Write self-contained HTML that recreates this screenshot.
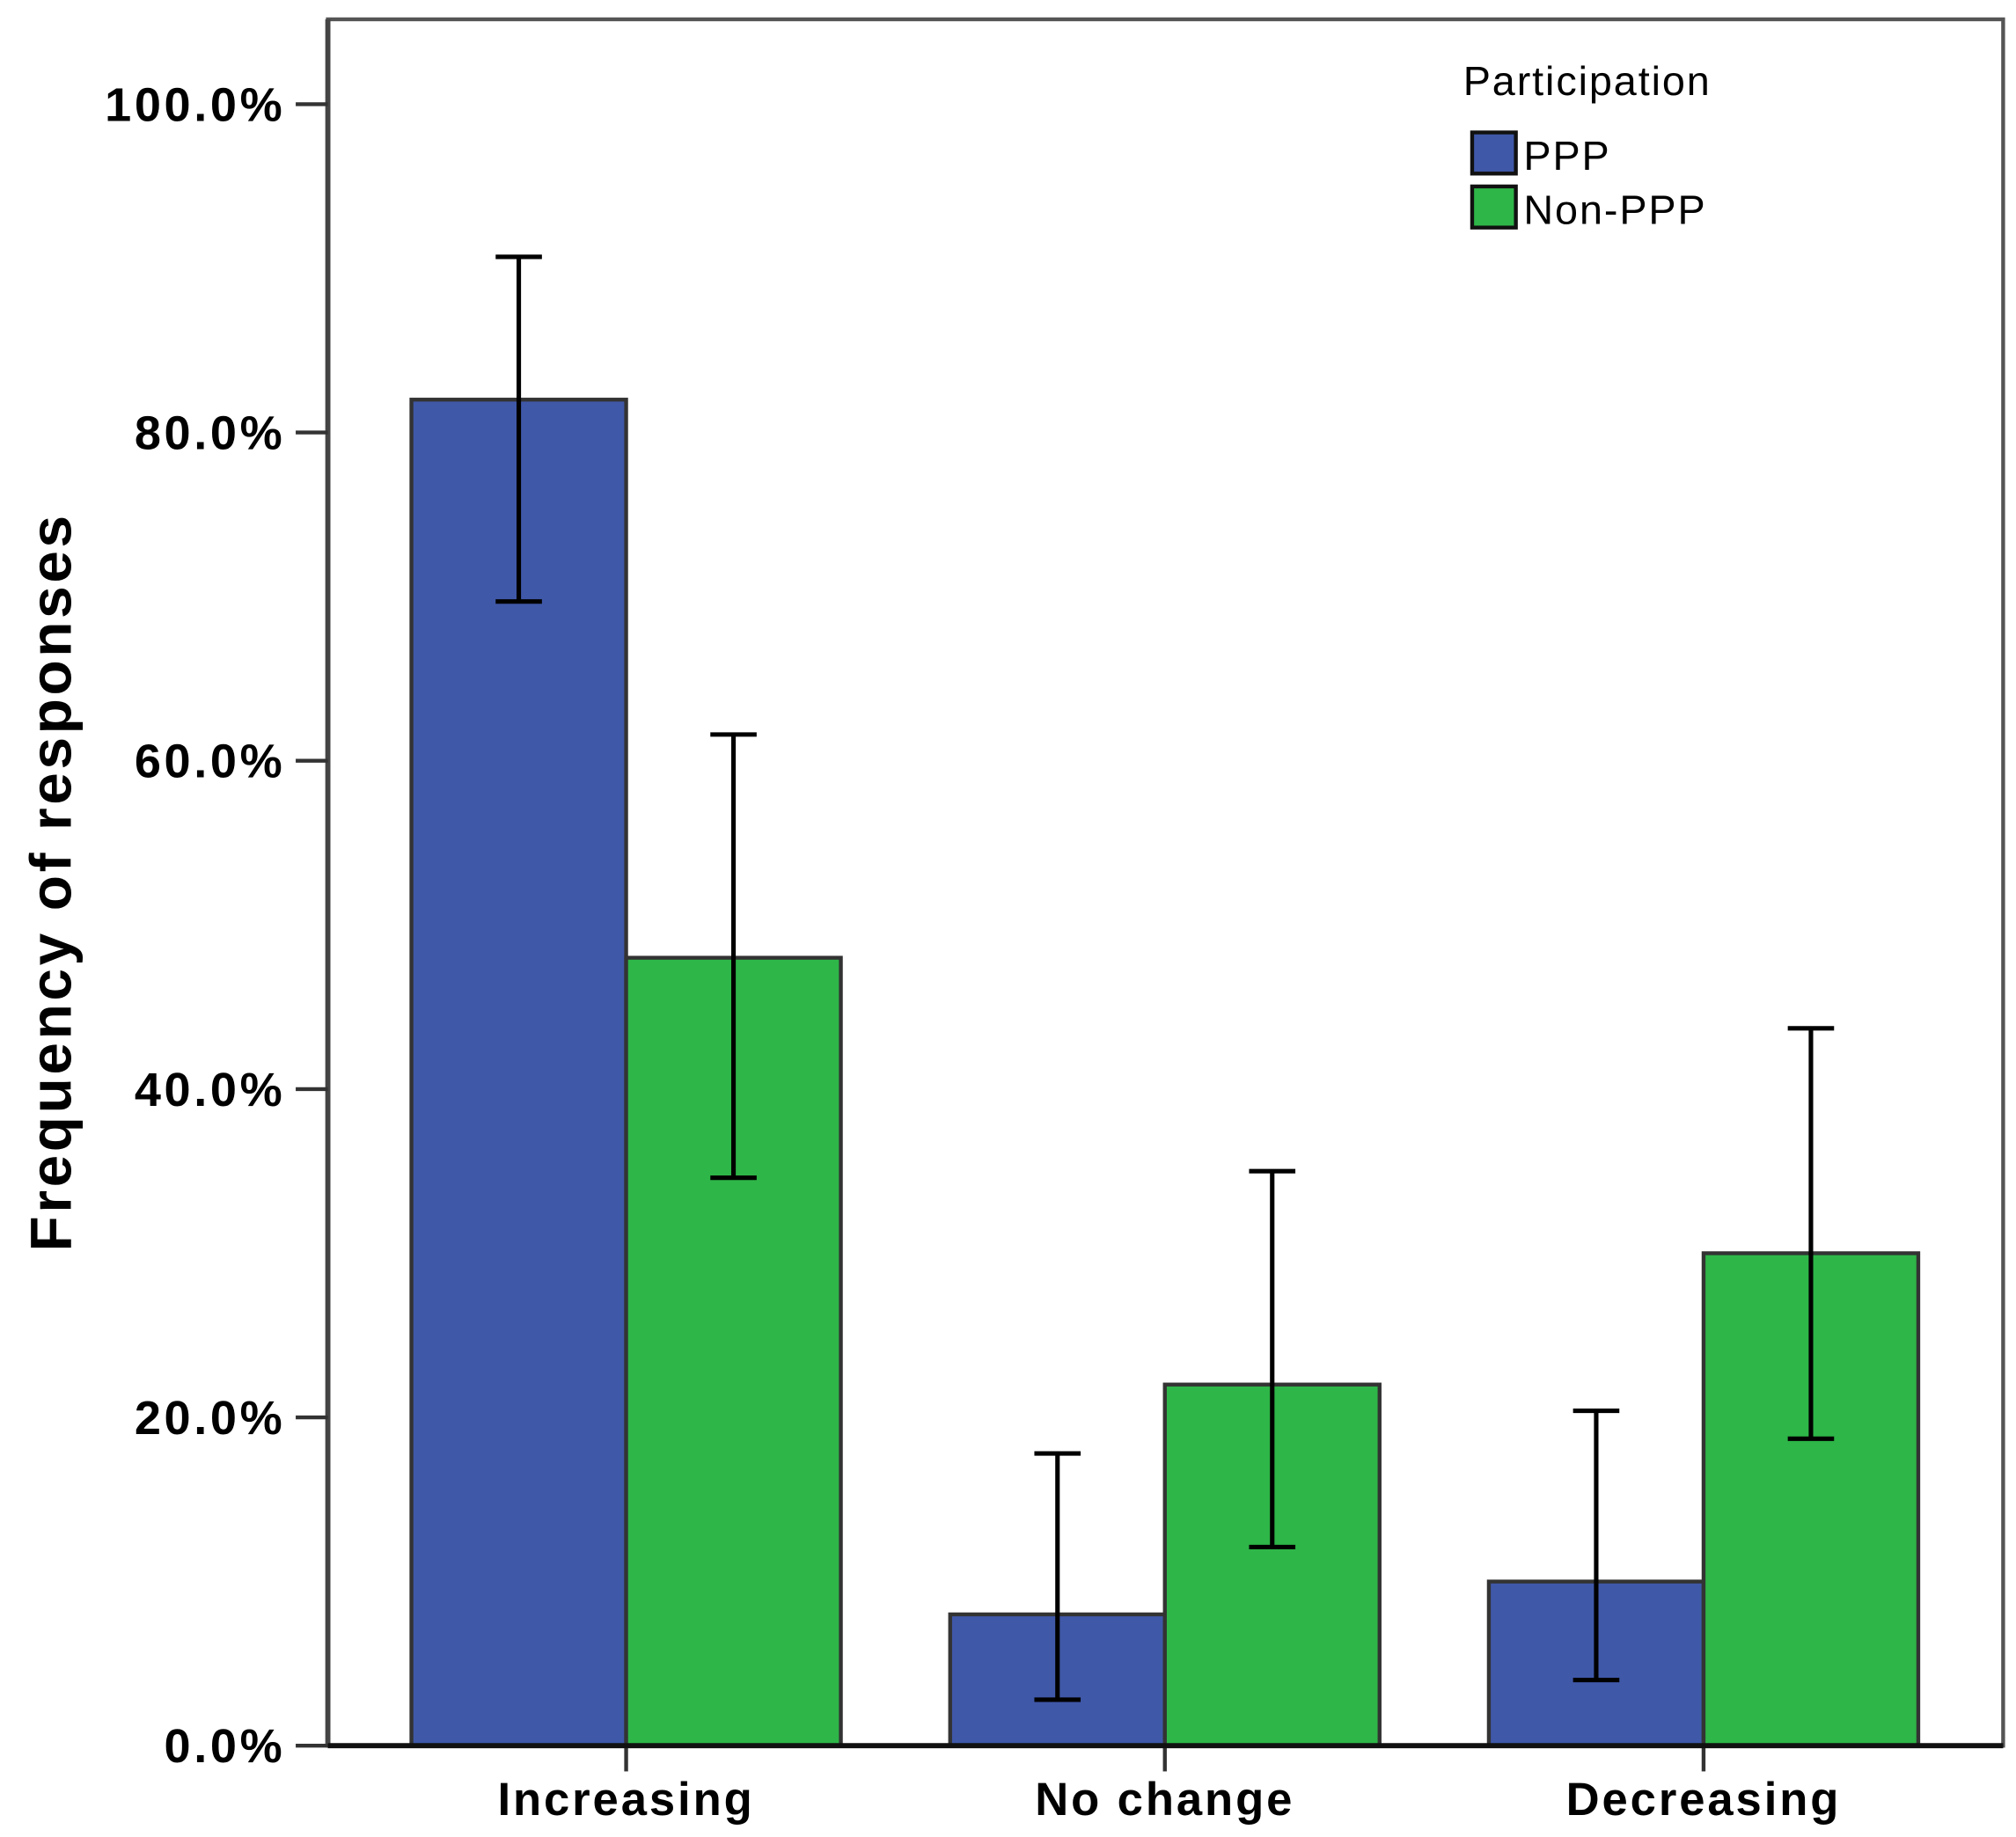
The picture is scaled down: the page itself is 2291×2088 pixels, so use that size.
<!DOCTYPE html>
<html><head><meta charset="utf-8"><style>
html,body{margin:0;padding:0;background:#fff}
svg{display:block}
text{font-family:"Liberation Sans",Arial,sans-serif}
</style></head><body>
<svg id="chart" width="2291" height="2088" viewBox="0 0 1568 1429" xmlns="http://www.w3.org/2000/svg">
<g id="bars"></g>
<g id="axes"></g>
<g>
<text x="1138" y="74" font-size="32" letter-spacing="1.3" fill="#000">Participation</text>
<rect x="1145" y="103" width="34" height="32" fill="#3f58a8" stroke="#111" stroke-width="3"/>
<text x="1185" y="132" font-size="32" letter-spacing="1.3" fill="#000">PPP</text>
<rect x="1145" y="145" width="34" height="32" fill="#2eb648" stroke="#111" stroke-width="3"/>
<text x="1185" y="174" font-size="32" letter-spacing="1.3" fill="#000">Non-PPP</text>
</g>
<text transform="translate(55,686) rotate(-90)" text-anchor="middle" font-size="45" letter-spacing="2.5" font-weight="bold" fill="#000">Frequency of responses</text>
</svg>
<script>
const categories = ["Increasing", "No change", "Decreasing"];
const pppValues = [82, 8, 10];
const nonPppValues = [48, 22, 30];
const pppLow = [69.7, 2.8, 4];
const pppHigh = [90.7, 17.8, 20.4];
const nonPppLow = [34.6, 12.1, 18.7];
const nonPppHigh = [61.6, 35, 43.7];
const yTicks = [0, 20, 40, 60, 80, 100];
const yTickLabels = ["0.0%", "20.0%", "40.0%", "60.0%", "80.0%", "100.0%"];

const NS = "http://www.w3.org/2000/svg";
const plotL = 255, plotR = 1558, plotT = 15, plotB = 1358;
const y = v => plotB - v * (plotB - 81) / 100;
const groupSpacing = 419;
const cx = i => 487 + i * groupSpacing;
const barW = 167;
function mk(tag, attrs, parent) {
  const e = document.createElementNS(NS, tag);
  for (const k in attrs) e.setAttribute(k, attrs[k]);
  parent.appendChild(e);
  return e;
}
const bars = document.getElementById("bars");
const axes = document.getElementById("axes");

categories.forEach((c, i) => {
  const series = [[pppValues, pppLow, pppHigh, "#3f58a8", "ppp"], [nonPppValues, nonPppLow, nonPppHigh, "#2eb648", "non-ppp"]];
  series.forEach((s, j) => {
    const x0 = cx(i) - barW + j * barW;
    const r = mk("rect", {x: x0, y: y(s[0][i]), width: barW, height: plotB - y(s[0][i]), fill: s[3], stroke: "#333", "stroke-width": 3}, bars);
    
    
    const m = x0 + barW / 2;
    const eb = mk("g", {stroke: "#000", "stroke-width": 3.5}, bars);
    
    
    mk("line", {x1: m, x2: m, y1: y(s[1][i]), y2: y(s[2][i])}, eb);
    mk("line", {x1: m - 18, x2: m + 18, y1: y(s[1][i]), y2: y(s[1][i])}, eb);
    mk("line", {x1: m - 18, x2: m + 18, y1: y(s[2][i]), y2: y(s[2][i])}, eb);
  });
  const t = mk("text", {x: cx(i), y: 1412, "text-anchor": "middle", "font-size": 36, "letter-spacing": 2, "font-weight": "bold", fill: "#000"}, axes);
  t.textContent = c;
  
  
  mk("line", {x1: cx(i), x2: cx(i), y1: plotB, y2: plotB + 20, stroke: "#333", "stroke-width": 3}, axes);
});

const frame = mk("rect", {x: plotL, y: plotT, width: plotR - plotL, height: plotB - plotT, fill: "none", stroke: "#555", "stroke-width": 3}, axes);


mk("line", {x1: plotL, x2: plotL, y1: plotT, y2: plotB, stroke: "#444", "stroke-width": 4}, axes);
mk("line", {x1: plotL, x2: plotR, y1: plotB, y2: plotB, stroke: "#111", "stroke-width": 4}, axes);
yTicks.forEach((v, k) => {
  mk("line", {x1: 230, x2: plotL, y1: y(v), y2: y(v), stroke: "#333", "stroke-width": 3}, axes);
  const t = mk("text", {x: 222, y: y(v) + 13, "text-anchor": "end", "font-size": 37, "letter-spacing": 2.5, "font-weight": "bold", fill: "#000"}, axes);
  t.textContent = yTickLabels[k];
  
  
});
</script>
</body></html>
